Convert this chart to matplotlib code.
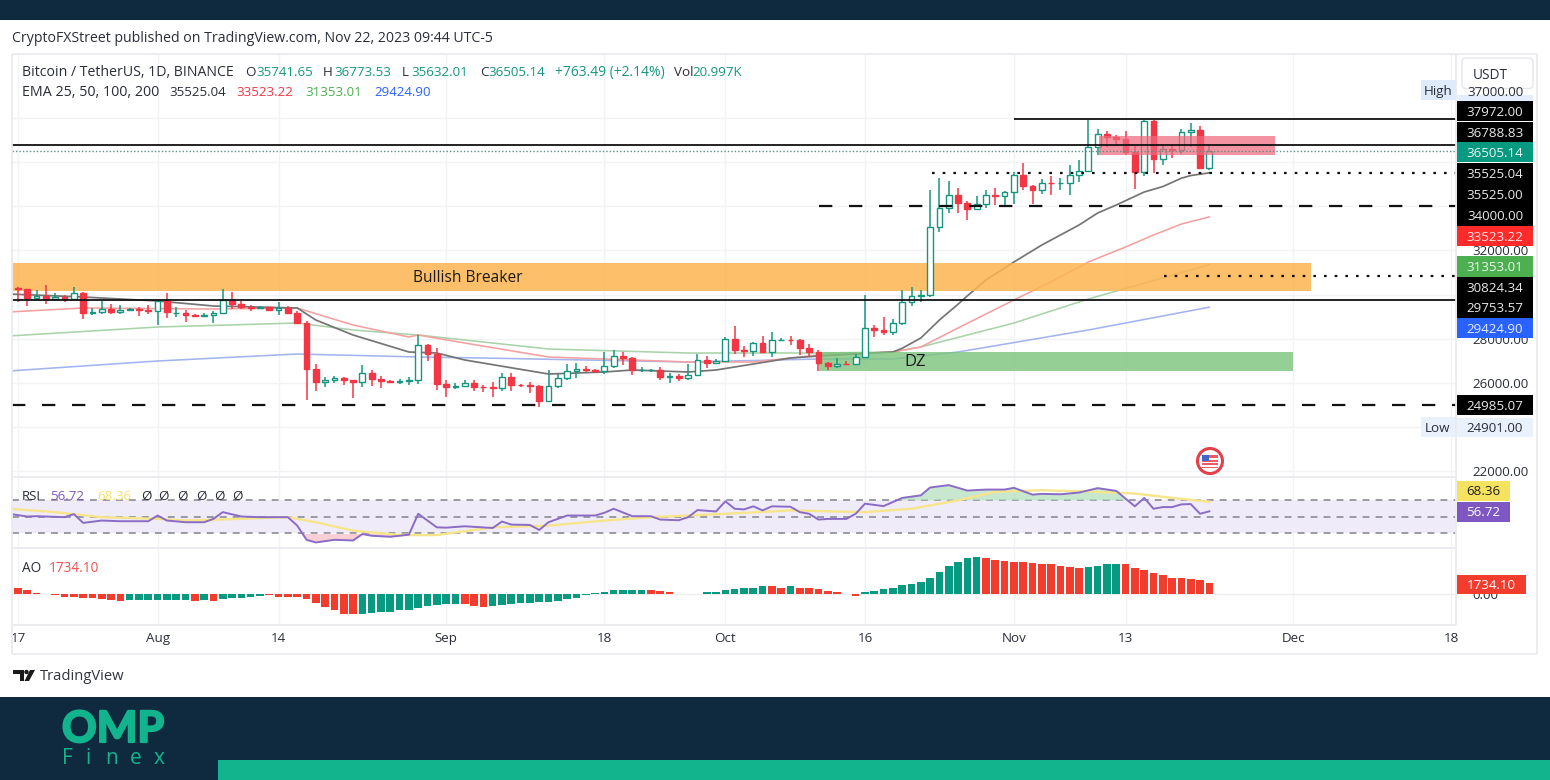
import matplotlib
matplotlib.use("Agg")
import matplotlib.pyplot as plt
import matplotlib.patheffects as pe
from matplotlib.patches import Rectangle, Circle, FancyBboxPatch

W, H = 1550, 780
FONT = "Open Sans"
plt.rcParams["font.family"] = [FONT, "DejaVu Sans"]

# ---------- data (one block per month, Jul 17 to Nov 22) ----------
opens_jul = [30290,30230,29860,29915,29800,29905,29790,30080,29175,29225,29350,29210,29315,29355,29275]
highs_jul = [30340,30245,30190,30415,30050,29990,30350,30100,29375,29690,29570,29530,29410,29450,29525]
lows_jul = [29660,29500,29740,29570,29720,29640,29730,28890,29050,29100,29100,29120,29260,29035,29100]
closes_jul = [30230,29860,29915,29800,29900,29790,30080,29175,29225,29350,29210,29315,29355,29275,29230]

opens_aug = [29230,29705,29175,29180,29075,29040,29055,29180,29765,29560,29430,29400,29420,29285,29400,29170,28700,26620,26050,26100,26190,26125,26040,26430,26160,26060,26010,26090,26105,27730,27300]
highs_aug = [29740,30050,29430,29310,29105,29175,29250,30250,30135,29690,29540,29470,29450,29680,29490,29230,28780,26830,26260,26290,26260,26135,26800,26560,26315,26110,26170,26250,28140,27760,27580]
lows_aug = [28620,28920,28960,28750,28960,28970,28700,29120,29350,29320,29230,29350,29260,29075,29100,28660,25210,25630,25800,26000,25880,25300,25790,25860,25770,25970,25960,25880,25920,27000,25655]
closes_aug = [29705,29185,29180,29075,29040,29055,29180,29765,29560,29430,29400,29420,29285,29400,29170,28700,26620,26050,26100,26190,26125,26040,26430,26160,26060,26010,26090,26105,27730,27300,25940]

opens_sep = [25940,25800,25870,25970,25815,25780,25755,26240,25905,25895,25830,25160,25840,26225,26530,26610,26570,26530,26760,27210,27130,26570,26580,26580,26250,26300,26210,26350,27030,26910]
highs_sep = [26130,25980,26130,26100,25890,26040,26430,26440,25945,26025,25880,26560,26400,26860,26890,26770,26620,27410,27490,27375,27150,26730,26630,26720,26420,26390,26830,27280,27230,27090]
lows_sep = [25330,25720,25810,25630,25570,25350,25615,25640,25800,25550,24900,25130,25760,26130,26220,26470,26420,26390,26670,26800,26360,26480,26500,26130,25990,26090,26110,26330,26660,26890]
closes_sep = [25800,25870,25970,25815,25780,25755,26240,25905,25895,25830,25160,25840,26225,26530,26610,26570,26530,26760,27210,27130,26570,26580,26580,26250,26300,26210,26350,27030,26910,26970]

opens_oct = [26970,27990,27500,27430,27790,27410,27930,27950,27920,27590,27390,26875,26760,26860,26850,27150,28500,28400,28320,28710,29680,29920,29990,33070,33920,34500,34150,33900,34090,34530,34490]
highs_oct = [28050,28580,27680,27830,28120,28290,28030,28120,27990,27740,27480,26950,27100,26990,27290,30000,28620,28980,28910,30200,30350,30200,34740,35280,35130,34830,34240,34480,34750,34850,34720]
lows_oct = [26960,27320,27160,27220,27340,27180,27870,27710,27260,27160,26540,26560,26680,26810,26800,27110,28090,28140,28170,28600,29470,29670,29880,32860,33690,33700,33400,33860,33930,34080,34070]
closes_oct = [27990,27500,27430,27790,27410,27930,27950,27920,27590,27390,26875,26760,26860,26850,27150,28500,28400,28320,28710,29680,29920,29990,33070,33920,34500,34150,33900,34090,34530,34490,34650]

opens_nov = [34650,35420,34940,34730,35080,35040,35050,35420,35620,36700,37300,37130,37060,36490,35550,37880,36160,36590,36570,37380,37470,35741]
highs_nov = [35570,35980,34950,35260,35380,35280,35900,36100,37972,37530,37410,37230,37420,36750,37970,37930,36850,36850,37500,37780,37650,36773]
lows_nov = [34100,34750,34100,34580,34520,34730,34520,35120,35540,36340,36700,36760,36330,34800,35360,35520,35875,36200,36380,36700,35750,35632]
closes_nov = [35420,34940,34730,35080,35040,35050,35420,35620,36700,37300,37130,37060,36490,35550,37880,36160,36590,36570,37380,37470,35750,36505]

opens = opens_jul + opens_aug + opens_sep + opens_oct + opens_nov
highs = highs_jul + highs_aug + highs_sep + highs_oct + highs_nov
lows = lows_jul + lows_aug + lows_sep + lows_oct + lows_nov
closes = closes_jul + closes_aug + closes_sep + closes_oct + closes_nov

ema25_days = [-1,7,15,21,30,32,36,42,45,48,57,63,66,72,75,83,86,94,95,97,99,101,102,104,107,110,114,116,118,121,123,125,126,128]
ema25_vals = [30023,29887,29706,29479,29388,28843,28162,27391,27345,27028,26392,26483,26574,26483,26574,27118,27209,27391,27560,28026,28843,29560,29940,30659,31476,32247,33155,33700,34063,34653,34900,35280,35400,35525]
ema50_days = [-1,7,21,30,36,42,43,48,57,72,79,86,94,97,101,107,111,115,119,122,125,128]
ema50_vals = [29206,29388,29342,29388,28616,28072,28162,27799,27164,26937,26937,27254,27391,27618,28480,29751,30580,31476,32157,32700,33200,33523]
ema100_days = [-1,15,30,36,43,57,72,86,94,97,107,115,128]
ema100_vals = [28117,28525,28707,28389,28162,27527,27345,27345,27391,27618,28707,29796,31353]
ema200_days = [-1,15,30,43,50,72,86,94,101,115,128]
ema200_vals = [26528,26982,27300,27164,27118,26937,27073,27073,27391,28389,29425]

rsi_days = [-1,1,2,5,6,7,9,11,14,15,16,18,20,21,22,24,26,29,30,31,32,34,36,37,38,40,42,43,45,46,48,51,52,53,55,56,57,59,62,63,64,
 66,68,69,71,72,73,75,76,77,78,79,80,81,83,84,85,86,87,89,90,91,93,95,97,98,100,102,104,106,107,109,110,112,114,116,118,119,120,121,122,123,124,125,126,127,128]
rsi_vals = [53.7,50.4,50.8,49.6,53.3,42.7,45.5,44.7,44.7,51.6,45.5,43.5,43.5,47.6,55.7,50.4,49.6,49.6,39.4,22.2,19,22.2,21.4,29.2,27.1,25.9,28.4,53.7,37.3,36.9,38.6,36.5,44.3,40.6,40.2,34.1,43.5,51.6,51.6,54.9,59.8,
 50.8,50.8,46.7,45.9,49.6,58.2,56.5,68.8,59.8,59,62.7,57.8,62.7,62.2,55.7,53.7,46.7,47.5,47.5,53.7,65.9,63,72.9,76,85.5,88.4,81.8,83,83,85.1,76.9,77.8,77.3,79.4,84.7,81.4,72,62.7,72.9,59.8,61.8,61.8,65.1,65.5,53.7,56.72]
rsi_ma_days = [-1,4,9,15,18,24,29,32,36,41,45,51,57,63,68,76,83,91,96,101,105,110,116,120,124,128]
rsi_ma_vals = [59.8,55.7,49.6,47.6,45.5,47.6,49.6,43.5,33.3,28,28,37.3,39.4,45.5,49.6,53.7,57.8,55.7,59.8,70,80.2,82.2,80.2,78.2,72.9,68.36]

ao_vals = [990,640,250,50,-100,-350,-350,-500,-600,-700,-800,-950,-900,-900,-900,-900,-900,-900,-900,-950,-800,-950,
 -750,-600,-500,-400,-200,-150,-400,-400,-400,-750,-1340,-1830,-2330,-2920,-2920,-2920,-2720,-2570,-2570,-2380,-2330,-2080,-1680,-1580,-1490,-1490,-1490,-1680,-1830,-1680,-1580,-1490,-1340,-1340,-1190,-1090,-990,-740,-600,-100,250,400,640,
 640,640,640,640,450,300,100,100,100,300,300,640,840,990,990,1190,1190,990,1190,990,990,790,450,300,100,-250,300,450,790,990,1390,1530,1880,2470,3370,4260,4800,5350,5540,5350,5150,4950,4800,4800,4600,4460,4460,4260,4110,3910,4110,4260,4460,4460,4460,3910,3570,3220,2820,2470,2470,2280,2080,1734]
ao_up = ([12,13,14,15,16,17,18,20,22,23,24,25,26] + list(range(37,48)) + list(range(51,68))
         + list(range(73,81)) + [83] + list(range(91,104)) + [115,116,117,118])

date_ticks = [0,15,28,46,63,76,91,107,119,137,154]
date_labels = ["17","Aug","14","Sep","18","Oct","16","Nov","13","Dec","18"]

level_high, level_resist, level_last = 37972.00, 36788.83, 36505.14
level_ema, level_dot, level_dash = 35525.04, 35525.00, 34000.00
level_breaker, level_support, level_low = 30824.34, 29753.57, 24985.07
ema_last = [35525.04, 33523.22, 31353.01, 29424.90]
rsi_last, rsi_ma_last, ao_last = 56.72, 68.36, 1734.10
low_price = 24901.00
price_ticks = [22000, 24000, 26000, 28000, 30000, 32000, 34000, 36000, 38000]
price_ticks_shown = [22000, 26000, 28000, 32000]

breaker_zone = (30160, 31430)
dz_zone = (26528, 27390)
red_zone = (36333, 37195)

# ---------- layout helpers ----------
fig = plt.figure(figsize=(W/100, H/100), dpi=100, facecolor="white")
def rect(x0, y0, x1, y1):
    return [x0/W, 1-y1/H, (x1-x0)/W, (y1-y0)/H]

XL = (-0.644, 154.5)
GRID = "#f2f3f5"
ax = fig.add_axes(rect(12, 54, 1456, 477))
rs = fig.add_axes(rect(12, 478, 1456, 548))
ao = fig.add_axes(rect(12, 549, 1456, 625))
for a in (ax, rs, ao):
    a.set_xlim(*XL)
    for s in a.spines.values():
        s.set_visible(False)
    a.set_xticks(date_ticks)
    a.grid(True, axis="x", color=GRID, lw=1)
    a.set_axisbelow(True)
    a.tick_params(length=0, labelsize=9.6, colors="#2a2e39")
    a.yaxis.tick_right()

# ---------- main panel ----------
ax.set_ylim(21717, 40917)
ax.set_yticks(price_ticks)
ax.set_yticklabels([f"{v}.00" if v in price_ticks_shown else "" for v in price_ticks])
ax.tick_params(axis="y", pad=12)
ax.grid(True, axis="y", color=GRID, lw=1)
ax.set_xticklabels([])

for days, vals, col, lw in [(ema200_days, ema200_vals, "#a3b4ee", 1.15),
                            (ema100_days, ema100_vals, "#a9d3a9", 1.15),
                            (ema50_days, ema50_vals, "#f4a0a0", 1.15),
                            (ema25_days, ema25_vals, "#757575", 1.25)]:
    ax.plot(days, vals, color=col, lw=lw, zorder=2, solid_joinstyle="round")

ax.axhspan(*breaker_zone, xmax=(1311-12)/1444, color="#fdb44f", alpha=0.85, lw=0, zorder=3)
ax.fill_between([(819-18)/9.31, (1293-18)/9.31], dz_zone[0], dz_zone[1], color="#7cc47c", alpha=0.8, lw=0, zorder=3)

UP, DOWN = "#17967f", "#f23645"
for d, (o, h, l, c) in enumerate(zip(opens, highs, lows, closes)):
    col = UP if c >= o else DOWN
    ax.vlines(d, l, h, color=col, lw=1.1, zorder=4)
    ax.bar(d, abs(c-o), bottom=min(o, c), width=0.62,
           facecolor="white" if c >= o else DOWN, edgecolor=col, lw=1.0, zorder=4.1)

ax.fill_between([(1099-18)/9.31, (1275-18)/9.31], red_zone[0], red_zone[1], color="#ef6a7e", alpha=0.72, lw=0, zorder=4.5)

DASH = (0, (6, 7.5))
DOT = (0, (1.2, 3.6))
K = "#111111"
ax.hlines(level_high, (1014-18)/9.31, XL[1], color=K, lw=1.3, zorder=5)
ax.hlines(level_resist, XL[0], XL[1], color=K, lw=1.3, zorder=5)
ax.hlines(level_last, XL[0], XL[1], color="#5b8f88", lw=1.0, ls=(0, (1, 1.5)), zorder=5)
ax.hlines(level_dot, (932-18)/9.31, XL[1], color=K, lw=1.6, ls=DOT, zorder=5)
ax.hlines(level_dash, (819-18)/9.31, XL[1], color=K, lw=1.6, ls=DASH, zorder=5)
ax.hlines(level_breaker, (1164-18)/9.31, XL[1], color=K, lw=1.6, ls=DOT, zorder=5)
ax.hlines(level_support, XL[0], XL[1], color=K, lw=1.3, zorder=5)
ax.hlines(level_low, XL[0], XL[1], color=K, lw=1.6, ls=DASH, zorder=5)

# ---------- RSI panel ----------
rs.set_ylim(12.3, 97)
rs.set_yticks([]); rs.set_xticklabels([])
rs.axhspan(30, 70, color="#f0ebf9", lw=0, zorder=1)
for lv in (70, 50, 30):
    rs.axhline(lv, color="#80838d", lw=1.1, ls=(0, (4.5, 4)), zorder=2)
rs.fill_between(rsi_days, 70, rsi_vals, where=[v > 70 for v in rsi_vals], interpolate=True, color="#b5dfbf", alpha=0.75, lw=0, zorder=2)
rs.fill_between(rsi_days, 30, rsi_vals, where=[v < 30 for v in rsi_vals], interpolate=True, color="#f7c7cd", alpha=0.85, lw=0, zorder=2)
rs.plot(rsi_ma_days, rsi_ma_vals, color="#f6e58a", lw=1.7, zorder=3)
rs.plot(rsi_days, rsi_vals, color="#8a6cc6", lw=1.4, zorder=4)

# ---------- AO panel ----------
ao.set_ylim(-4544, 6704)
ao.set_yticks([0]); ao.set_yticklabels(["0.00"])
ao.tick_params(axis="y", pad=12)
ao.set_xticklabels(date_labels)
ao.tick_params(axis="x", pad=5, labelsize=9.6, colors="#2a2e39")
ao.bar(range(len(ao_vals)), ao_vals, width=0.82, zorder=3,
       color=["#089981" if d in ao_up else "#f23c2e" for d in range(len(ao_vals))])
ao.axhline(0, color="#eeeeee", lw=1, zorder=1)

# ---------- overlay with page decoration, labels and price tags ----------
ov = fig.add_axes([0, 0, 1, 1], zorder=10)
ov.set_xlim(0, W); ov.set_ylim(H, 0); ov.axis("off"); ov.patch.set_alpha(0)

def box(x0, y0, x1, y1, col, **k):
    ov.add_patch(Rectangle((x0, y0), x1-x0, y1-y0, facecolor=col, edgecolor="none", **k))
def line(x0, y0, x1, y1, col="#e9ebef", lw=1.6):
    ov.plot([x0, x1], [y0, y1], color=col, lw=lw, solid_capstyle="butt")
def label(x, y, s, col="#2a2e39", size=9.6, **k):
    k.setdefault("va", "center")
    ov.text(x, y+1.2, s, color=col, fontsize=size, **k)

NAVY = "#0f2a3e"
TEAL = "#12b48d"
box(0, 0, W, 20, NAVY)
box(0, 697, W, H, NAVY)
box(218, 760, W, H, TEAL)

# frame
for seg in [(12, 54, 1537, 54), (12, 654, 1537, 654), (12, 54, 12, 654), (1537, 54, 1537, 654),
            (12, 477, 1456, 477), (12, 548, 1456, 548), (1456, 54, 1456, 625), (12, 625, 1456, 625)]:
    line(*seg, lw=1.3)

TXT = "#2a2e39"
label(12, 37.5, "CryptoFXStreet published on TradingView.com, Nov 22, 2023 09:44 UTC-5", TXT, 10.2)

# legend rows
G = "#17967f"
label(22, 71, "Bitcoin / TetherUS, 1D, BINANCE", TXT, 10.2)
for x, s, c, z in [(245, "O", TXT, 9.6), (256, "35741.65", G, 9.6),
                   (323, "H", TXT, 9.6), (334, "36773.53", G, 9.6), (402, "L", TXT, 9.6), (411, "35632.01", G, 9.6),
                   (480, "C", TXT, 9.6), (488, "36505.14", G, 9.6), (555, "+763.49 (+2.14%)", G, 10),
                   (674, "Vol", TXT, 9.6), (692, "20.997K", G, 9.6)]:
    label(x, 71, s, c, z)
label(22, 91, "EMA 25, 50, 100, 200", TXT, 10.3)
for x, s, c in [(169, f"{ema_last[0]:.2f}", TXT),
                (236, f"{ema_last[1]:.2f}", "#f23645"), (305, f"{ema_last[2]:.2f}", "#4caf50"),
                (374, f"{ema_last[3]:.2f}", "#2962ff")]:
    label(x, 91, s, c, 9.6)

# zone captions
label(468, 277, "Bullish Breaker", "#1b1b1b", 11.2, ha="center")
label(915, 361, "DZ", "#1b1b1b", 12, ha="center")

# RSI / AO captions
label(22, 495, "RSI", TXT, 9.6)
label(50, 495, "56.72", "#7e57c2", 9.6)
label(97, 495, "68.36", "#f5e26b", 9.6)
for x in (146, 163, 182, 201, 219, 237):
    label(x, 495, "Ø", TXT, 9.6, ha="center")
label(22, 567, "AO", TXT, 9.8)
label(49, 567, f"{ao_last:.2f}", "#ef5350", 9.8)

# price tags
TX0, TX1 = 1457, 1533
def tag(yc, val, bg, fg="white", h=20.6, x0=TX0, x1=TX1):
    box(x0, yc-h/2, x1, yc+h/2, bg)
    label((x0+x1)/2, yc, f"{val:.2f}", fg, 9.6, ha="center")

label(1495, 91, "37000.00", TXT, 9.6, ha="center")
box(TX0, 94.5, TX1, 100.6, "#e3edfb")
tag(111, level_high, "#000000", "#e8e8e8")
tag(132, level_resist, "#000000", "#e8e8e8")
tag(152, level_last, "#089981", "#e8f5f2")
tag(173.5, level_ema, "#000000", "#e8e8e8")
tag(194.5, level_dot, "#000000", "#e8e8e8")
tag(215.5, level_dash, "#000000", "#e8e8e8")
tag(236, ema_last[1], "#ff2a2a", "#ffe6e6")
tag(266.5, ema_last[2], "#4caf50", "#edf8ed")
tag(287, level_breaker, "#000000", "#e8e8e8")
tag(307.5, level_support, "#000000", "#e8e8e8")
tag(328, ema_last[3], "#2962ff", "#e8eeff")
tag(405, level_low, "#000000", "#e8e8e8")
tag(427, low_price, "#e9f1fd", TXT, h=19)
box(1421, 80, 1456, 100, "#dfeafb")
label(1438, 90, "High", TXT, 9.6, ha="center")
box(1421, 417, 1456, 437, "#e9f1fd")
label(1438, 427, "Low", TXT, 9.6, ha="center")
tag(490.5, rsi_ma_last, "#f5e35f", "#1f1f1f", h=20, x1=1510)
tag(511.5, rsi_last, "#7e57c2", "white", h=20, x1=1510)
tag(584.5, ao_last, "#f23c2e", "white", h=19, x1=1526)

# USDT button
box(TX0, 56, TX1+2, 88.5, "white")
ov.add_patch(FancyBboxPatch((1462, 58), 71, 30.5, boxstyle="round,pad=0,rounding_size=4",
                            facecolor="white", edgecolor="#e4e6ea", lw=1))
label(1490, 74, "USDT", TXT, 9.8, ha="center")

# calendar flag icon
ov.add_patch(Circle((1210, 461), 12.5, facecolor="white", edgecolor="#e5404a", lw=2.2))
box(1202, 455, 1218, 468, "#f05a63")
for yy in (458, 461.5, 465):
    box(1202, yy, 1218, yy+1.6, "white")
box(1202, 455, 1209, 461, "#3f66c8")

# TradingView mark
ov.fill([13, 24, 24, 20, 20, 13], [670, 670, 681, 681, 674, 674], color="#1a1a1a", lw=0)
ov.add_patch(Circle((26.5, 672), 2.2, color="#1a1a1a", lw=0))
ov.fill([30, 35, 29, 24.5], [670, 670, 681, 681], color="#1a1a1a", lw=0)
label(40, 675, "TradingView", "#30343d", 10.6)

# OMP Finex mark
ov.text(113, 729, "OMP", color=TEAL, fontsize=31, fontfamily="Lato", fontweight="bold", ha="center", va="center",
        path_effects=[pe.withStroke(linewidth=1.6, foreground=TEAL)])
for x, ch in zip((67, 88, 112, 136, 159), "Finex"):
    ov.text(x, 758, ch, color=TEAL, fontsize=15, fontfamily="Open Sans", ha="center", va="center")

fig.savefig("out.png", dpi=100, facecolor="white")
